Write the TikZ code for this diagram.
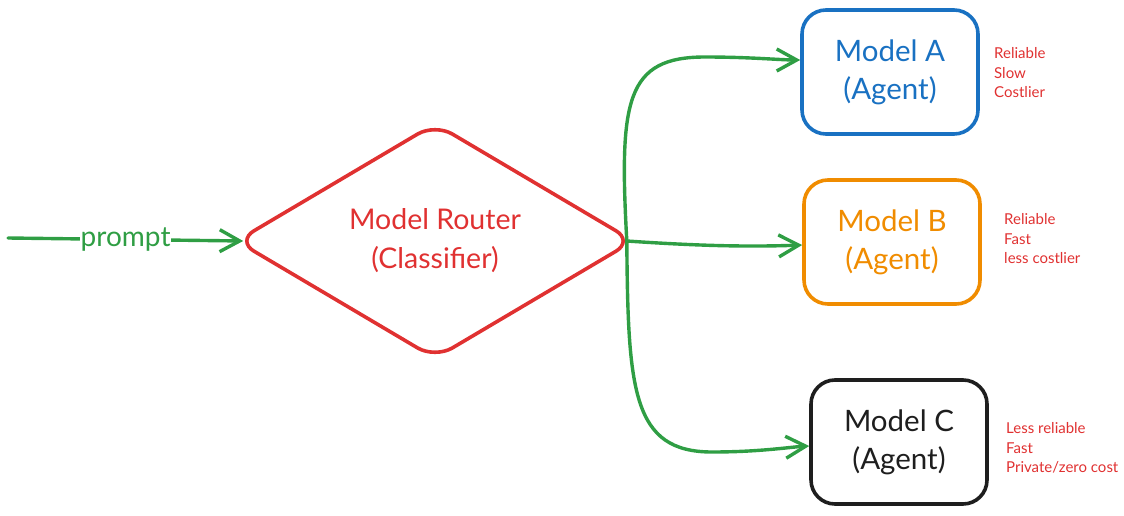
\documentclass[tikz,border=0pt]{standalone}
\usepackage{fontspec}
\setmainfont{Lato}
\usetikzlibrary{shapes.geometric,arrows.meta}
\definecolor{routerred}{HTML}{E03131}
\definecolor{linkgreen}{HTML}{2F9E44}
\definecolor{modelblue}{HTML}{1971C2}
\definecolor{modelorange}{HTML}{F08C00}
\definecolor{modelblack}{HTML}{1E1E1E}
\begin{document}
\begin{tikzpicture}[x=1pt,y=-1pt,>={Straight Barb[length=20pt,width=22pt]},line join=round,
    model node/.style={draw,line width=3.6pt,rounded corners=24pt,minimum width=176pt,minimum height=124pt,align=center,font=\fontsize{29.5}{38}\selectfont},
    note/.style={anchor=west,align=left,inner sep=0pt,text=routerred,font=\fontsize{15}{19.5}\selectfont},
    link/.style={->,draw=linkgreen,line width=3.4pt,line cap=round}]
                \useasboundingbox (0,0) rectangle (1124,516);

                \node[diamond,draw=routerred,text=routerred,line width=3.6pt,rounded corners=20pt,minimum width=398pt,minimum height=220pt,inner sep=0pt,align=center,font=\fontsize{28.5}{39}\selectfont] (router) at (435,241) {Model Router\\(Classifier)};
                \node[model node,draw=modelblue,text=modelblue] (A) at (890,72) {Model A\\(Agent)};
                \node[model node,draw=modelorange,text=modelorange] (B) at (892,242) {Model B\\(Agent)};
                \node[model node,draw=modelblack,text=modelblack] (C) at (899,442) {Model C\\(Agent)};

                \node[note] (noteA) at (994,73) {Reliable\\Slow\\Costlier};
                \node[note] (noteB) at (1004,239) {Reliable\\Fast\\less costlier};
                \node[note] (noteC) at (1006,448) {Less reliable\\Fast\\Private/zero cost};

                \coordinate (input) at (8,238);
                \draw[link] (input) -- node[fill=white,inner sep=1pt,text=linkgreen,font=\fontsize{28}{30}\selectfont] {prompt} ([xshift=9pt]router.west);
                \draw[link] ([xshift=-9pt]router.east) .. controls (619,100) and (626,57) .. (705,57) .. controls (750,57) and (780,60) .. ([yshift=12pt]A.west);
                \draw[link] ([xshift=-9pt]router.east) .. controls (700,246) and (750,247) .. ([yshift=-3pt]B.west);
                \draw[link] ([xshift=-9pt]router.east) .. controls (628,390) and (632,452) .. (712,452) .. controls (760,452) and (790,447) .. ([yshift=-4pt]C.west);
            \end{tikzpicture}
\end{document}
